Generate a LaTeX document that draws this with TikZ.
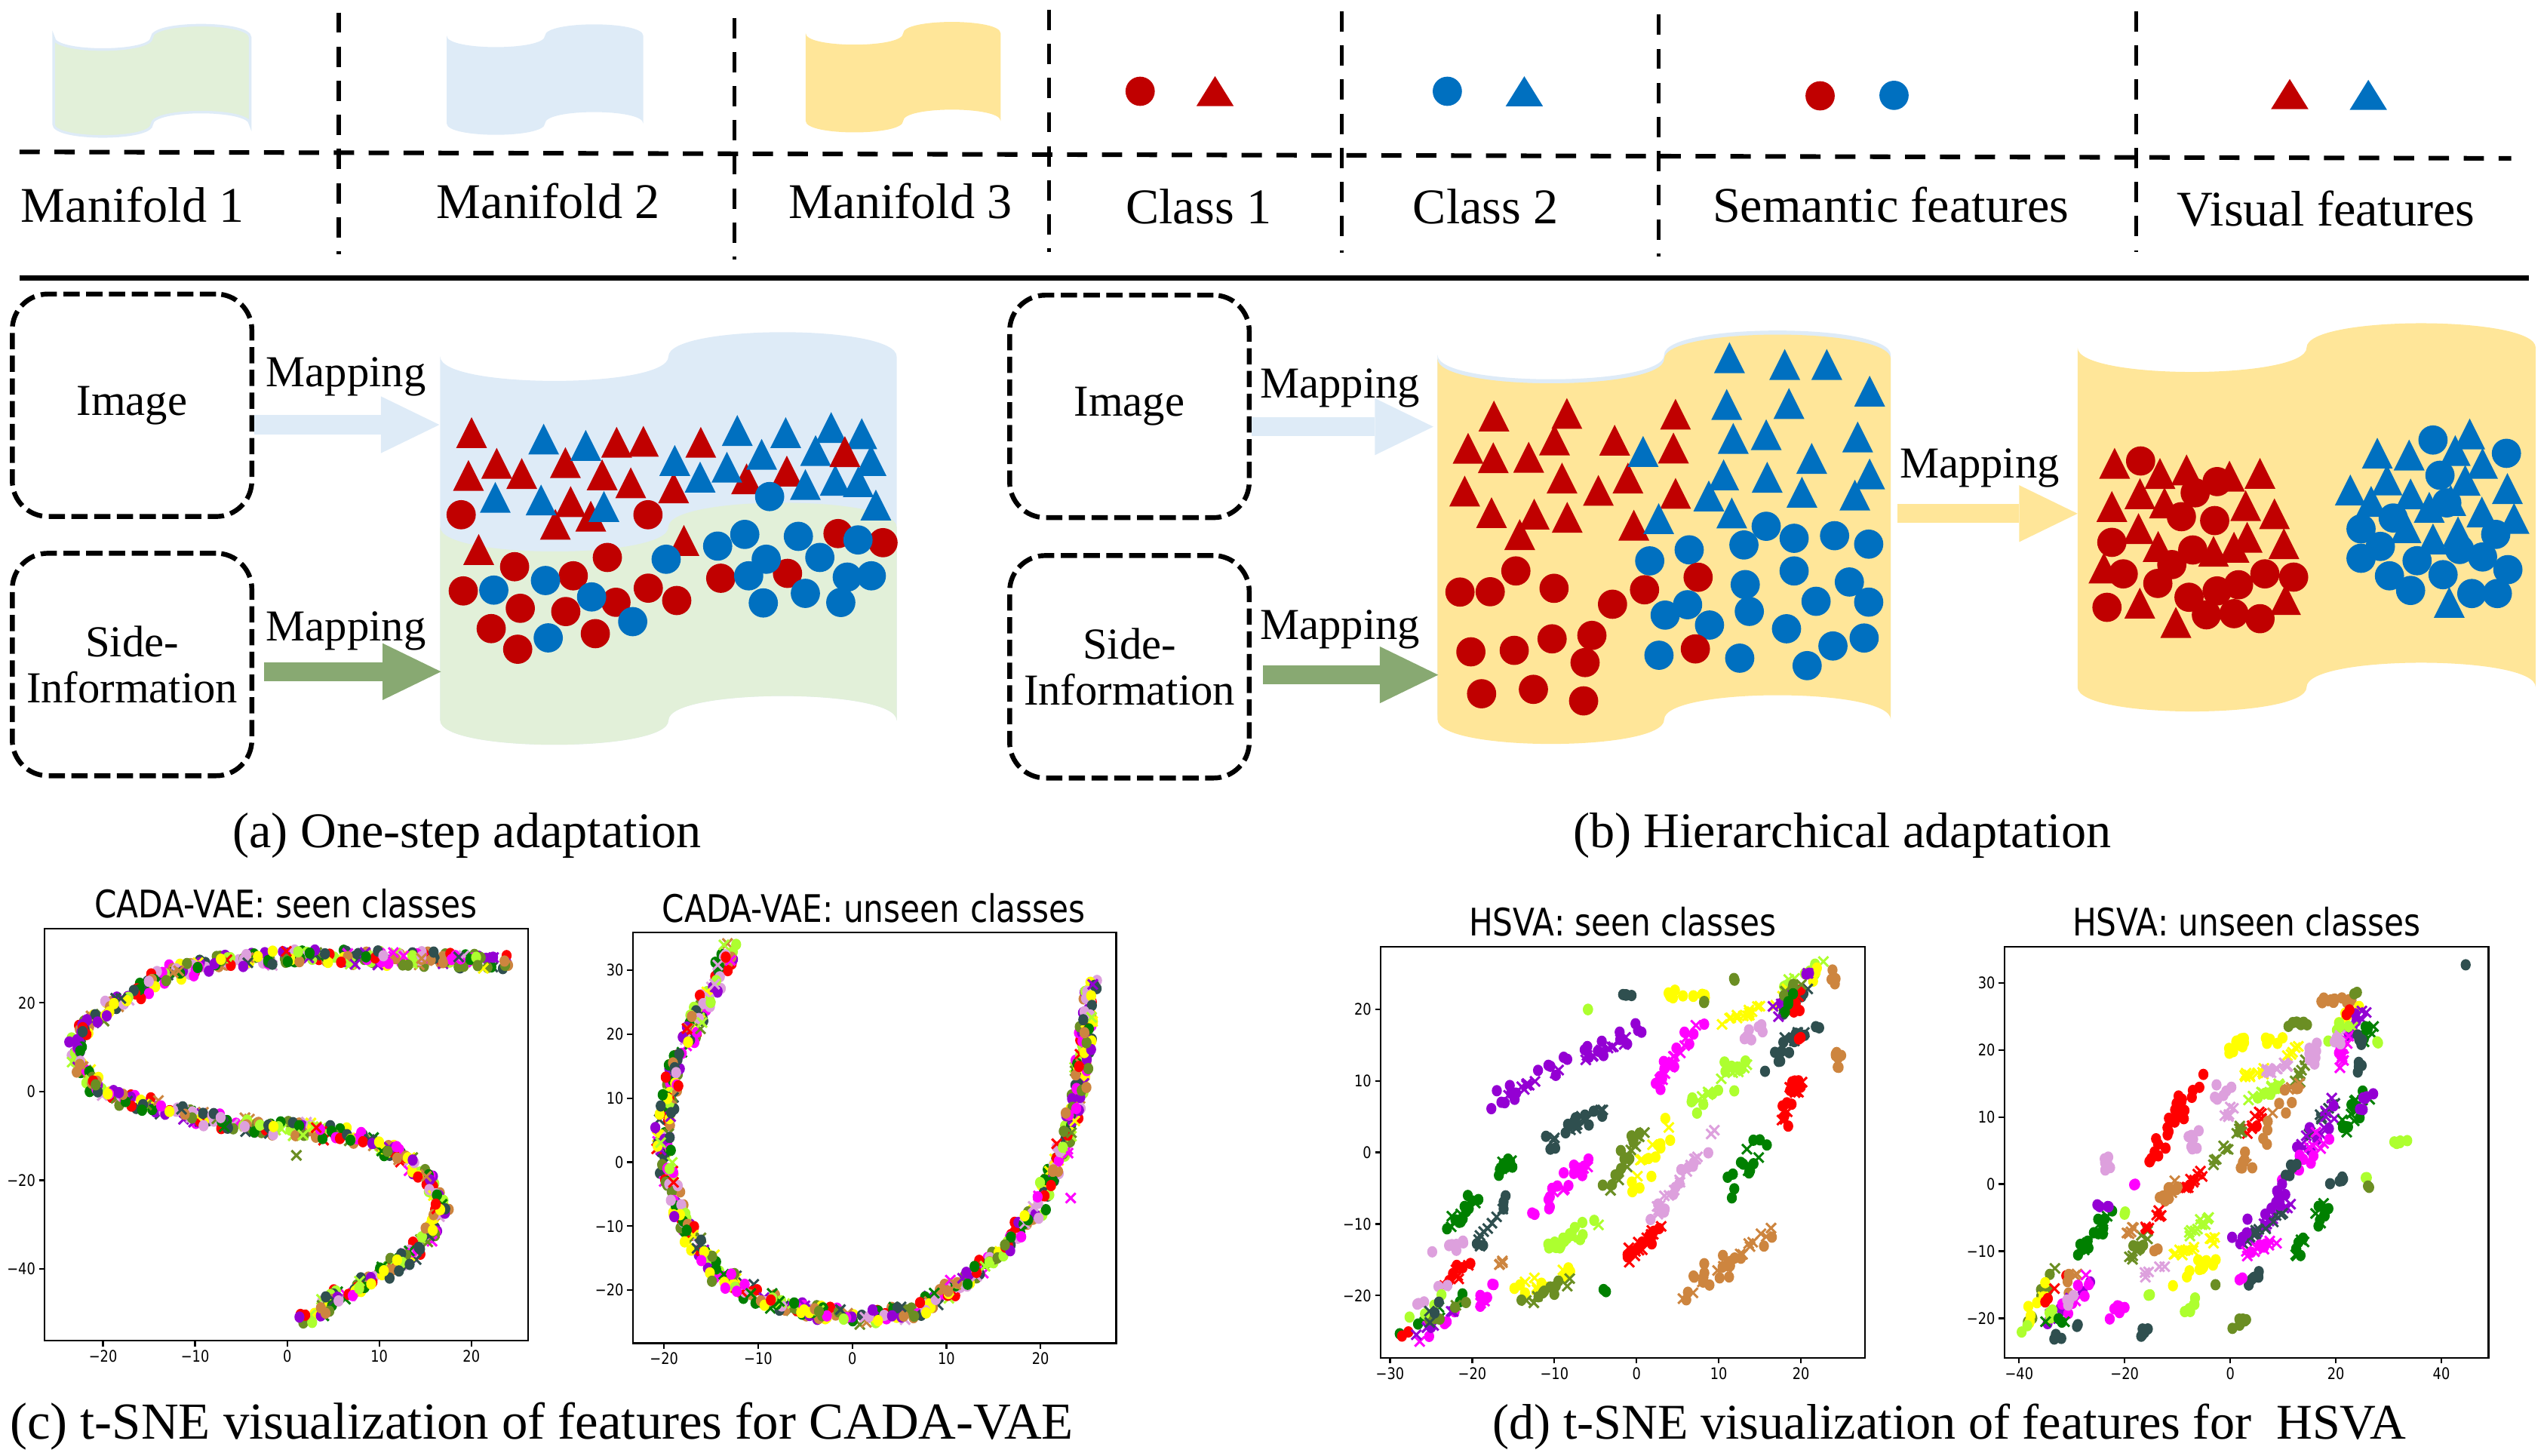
\documentclass[tikz,border=0pt]{standalone}
\usepackage{fontspec}
\setmainfont{Liberation Serif}
\newfontfamily\plotfont[FakeStretch=0.84]{DejaVu Sans}
\usetikzlibrary{arrows.meta}
\definecolor{clsred}{HTML}{C00000}
\definecolor{clsblue}{HTML}{0070C0}
\definecolor{manblue}{HTML}{DEEBF7}
\definecolor{mangreen}{HTML}{E2F0D9}
\definecolor{manyellow}{HTML}{FFE699}
\definecolor{mapgreen}{HTML}{88A972}
\definecolor{tsRed}{HTML}{FF0000}
\definecolor{tsGreen}{HTML}{008000}
\definecolor{tsSlate}{HTML}{2F4F4F}
\definecolor{tsPurple}{HTML}{9400D3}
\definecolor{tsMagenta}{HTML}{FF00FF}
\definecolor{tsYellow}{HTML}{FFFF00}
\definecolor{tsLime}{HTML}{ADFF2F}
\definecolor{tsPeru}{HTML}{CD853F}
\definecolor{tsPlum}{HTML}{DDA0DD}
\definecolor{tsOlive}{HTML}{6B8E23}
\pgfmathdeclarerandomlist{tsnecols}{{tsRed}{tsGreen}{tsSlate}{tsPurple}{tsMagenta}{tsYellow}{tsLime}{tsPeru}{tsPlum}{tsOlive}}

% manifold sheet: style, left, right, top edge, bottom edge, bulge
\newcommand{\manifold}[6]{%
  \pgfmathsetmacro\mfm{(#2+#3)/2}%
  \pgfmathsetmacro\mfd{4/3*#6}%
  \path[#1] (#2,#4) .. controls (#2,#4+\mfd) and (\mfm,#4+\mfd) .. (\mfm,#4)
    .. controls (\mfm,#4-\mfd) and (#3,#4-\mfd) .. (#3,#4)
    -- (#3,#5) .. controls (#3,#5-\mfd) and (\mfm,#5-\mfd) .. (\mfm,#5)
    .. controls (\mfm,#5+\mfd) and (#2,#5+\mfd) .. (#2,#5) -- cycle;}

% one t-SNE marker at (\px,\py)
\newcommand{\tsnemark}[2]{%
  \pgfmathsetmacro\mk{rnd}%
  \ifdim\mk pt<#2pt
    \draw[color=#1, line width=0.8pt] (\px,\py) +(-0.06cm,-0.06cm) -- +(0.06cm,0.06cm)
      +(-0.06cm,0.06cm) -- +(0.06cm,-0.06cm);%
  \else
    \fill[color=#1] (\px,\py) ellipse[x radius=0.062cm, y radius=0.07cm];%
  \fi}

% clusters: x1/y1/x2/y2/colour/count/jitter/cross share
\newcommand{\tsnepoints}[1]{%
  \foreach \ax/\ay/\bx/\by/\cc/\nn/\jj/\xf in {#1}{%
    \pgfmathtruncatemacro\nm{max(1,\nn*1.4)}%
    \foreach \k in {1,...,\nm}{%
      \pgfmathsetmacro\tpos{rnd}%
      \pgfmathsetmacro\px{\ax+((\bx)-(\ax))*\tpos+1.3*\jj/\sxf*rand}%
      \pgfmathsetmacro\py{\ay+((\by)-(\ay))*\tpos+1.3*\jj/\syf*rand}%
      \tsnemark{\cc}{\xf}%
    }%
  }}

% band of mixed classes along a path
\newcommand{\tsnecurve}[3]{%
  \foreach \bx/\by [remember=\bx as \ax (initially #1), remember=\by as \ay (initially #2)] in {#3}{%
    \pgfmathtruncatemacro\nn{max(1,veclen(((\bx)-(\ax))*\sxf,((\by)-(\ay))*\syf)/0.9)}%
    \foreach \k in {1,...,\nn}{%
      \pgfmathrandomitem{\cc}{tsnecols}%
      \pgfmathsetmacro\tpos{rnd}%
      \pgfmathsetmacro\px{\ax+((\bx)-(\ax))*\tpos+4.5/\sxf*rand}%
      \pgfmathsetmacro\py{\ay+((\by)-(\ay))*\tpos+4.5/\syf*rand}%
      \tsnemark{\cc}{0.2}%
    }%
  }}

\begin{document}
\begin{tikzpicture}[x=0.02cm, y=-0.02cm,
    srcbox/.style={draw, line width=1.7pt, dash pattern=on 0.2cm off 0.08cm,
      rounded corners=0.44cm, minimum width=2.95cm, minimum height=2.74cm,
      align=center, font=\fontsize{15.5}{16.3}\selectfont},
    maplabel/.style={inner sep=0pt, font=\fontsize{15.5}{17}\selectfont},
    legtext/.style={anchor=base, inner sep=0pt, font=\fontsize{17.5}{20}\selectfont},
    captext/.style={anchor=base, inner sep=0pt, font=\fontsize{17.5}{20}\selectfont},
    blockarrow/.style={line width=0.235cm,
      -{Triangle[length=0.72cm, width=0.70cm, line width=0pt]}},
    legdash/.style={line width=1.4pt, dash pattern=on 0.25cm off 0.17cm},
    plotframe/.style={line width=0.6pt},
    plottitle/.style={anchor=base, inner sep=0pt, font=\plotfont\fontsize{13.3}{15}\selectfont},
    ticklabel/.style={inner sep=1pt, font=\plotfont\fontsize{5.6}{6.5}\selectfont}]
  \pgfmathsetseed{3}
  \useasboundingbox (0,0) rectangle (1568,896);

  % legend
  \manifold{fill=mangreen, draw=manblue, line width=0.9pt}{33}{154}{23}{76.5}{7.5}
  \manifold{fill=manblue}{275}{396}{22}{76}{7}
  \manifold{fill=manyellow}{496}{616}{20.5}{74.5}{7}
  \foreach \lx/\ly/\lc in {701.9/56.2/clsred, 891/56.2/clsblue, 1120.5/59/clsred, 1166/58.7/clsblue}
    \fill[color=\lc] (\lx,\ly) circle (0.18cm);
  \foreach \lx/\ly/\lc in {748/56.1/clsred, 938.4/56.2/clsblue, 1409.6/57.9/clsred, 1458/58.4/clsblue}
    \fill[color=\lc] (\lx,\ly) ++(-11.5,9.25) -- ++(23,0) -- ++(-11.5,-18.5) -- cycle;

  \draw[legdash, line width=1.6pt, dash pattern=on 0.25cm off 0.18cm] (12,93.5) -- (1546,97.5);
  \foreach \lx/\ya/\yb in {208.6/7.7/156.7, 452/11/160, 645.7/6/155, 826/7/155.6, 1021/9/158, 1315/7/155}
    \draw[legdash] (\lx,\ya) -- (\lx,\yb);
  \draw[line width=1.8pt] (12,171) -- (1557,171);

  \node[legtext] (lgman1) at (81.7,137) {Manifold 1};
  \node[legtext] (lgman2) at (337.6,134.4) {Manifold 2};
  \node[legtext] (lgman3) at (554.5,134.4) {Manifold 3};
  \node[legtext] (lgcls1) at (738,137.8) {Class 1};
  \node[legtext] (lgcls2) at (914.7,137.8) {Class 2};
  \node[legtext] (lgsem) at (1164,137) {Semantic features};
  \node[legtext] (lgvis) at (1432,139.3) {Visual features};

  % (a) one-step adaptation
  \manifold{fill=manblue}{271}{552}{219.5}{443.5}{15}
  \manifold{fill=mangreen}{271}{552}{324.5}{443.5}{15}

  \foreach \p in {(290.3,266.3),(305.8,285.2),(288.4,292.7),(321.2,291.5),(348.1,284.8),
    (379.6,272.3),(396.1,271.7),(370.7,292.3),(388.3,297.2),(351.3,308.8),(341.9,322.8),
    (363.7,317.8),(414.7,300.3),(431.4,272.3),(459.6,294.8),(484.4,290),(294.7,338.3),(421,332.7)}
    \fill[clsred] \p ++(-9.5,9.5) -- ++(19,0) -- ++(-9.5,-19) -- cycle;
  \foreach \p in {(334.7,270.3),(360.6,274.2),(304.9,306.2),(333.1,307.8),(371.8,311.8),
    (415.4,283.5),(431,293.7),(447.5,287.6),(453.9,265),(468.9,279.7),(483.7,266.3),
    (511.7,263.2),(502.1,277.4),(530.5,267),(495.8,298.3),(514.2,295.7),(536.2,283.5),
    (528.4,296.5),(539.2,310.9)}
    \fill[clsblue] \p ++(-9.5,9.5) -- ++(19,0) -- ++(-9.5,-19) -- cycle;
  \fill[clsred] (520.1,278) ++(-9.5,9.5) -- ++(19,0) -- ++(-9.5,-19) -- cycle;
  \foreach \p in {(283.9,316.9),(398.9,316.9),(316.8,348.9),(285.2,363.8),(352.9,354.5),
    (373.9,343.2),(320.3,374.5),(348.3,376.5),(379.2,370.8),(399.1,362.1),(416.6,369.7),
    (302.4,387),(318.7,399.7),(366.5,390.1),(443.7,356),(484.8,353),(515.9,328.5),(543.6,334.1)}
    \fill[clsred] \p circle (0.18cm);
  \foreach \p in {(473.8,305.7),(304,363.3),(335.8,357.4),(364.2,367.5),(389.5,382.7),
    (337.5,392.7),(410.1,344.3),(441.8,336.2),(458.5,329),(471.7,344.3),(460.9,354.5),
    (491.5,330.2),(504.7,343.2),(528.2,332.4),(495.8,365.3),(469.9,371.2),(517.6,370.9),
    (521.6,355.3),(536.4,354.5)}
    \fill[clsblue] \p circle (0.18cm);

  \node[srcbox] (imga) at (81.3,249.5) {Image};
  \node[srcbox] (sida) at (81.3,409.1) {Side-\\Information};
  \coordinate (ina1) at (270.5,261.5);
  \coordinate (ina2) at (271.5,413.5);
  \draw[blockarrow, manblue] (imga.east |- ina1) -- (ina1);
  \draw[blockarrow, mapgreen, shorten <=0.12cm] (sida.east |- ina2) -- (ina2);
  \node[maplabel] (mapa1) at (213,232) {Mapping};
  \node[maplabel] (mapa2) at (213,388.6) {Mapping};
  \node[captext] (capa) at (287.5,522) {(a) One-step adaptation};

  % (b) hierarchical adaptation
  \manifold{fill=manblue}{885}{1164}{218.5}{440}{15}
  \manifold{fill=manyellow}{885}{1164}{221}{443}{15}
  \manifold{fill=manyellow}{1279}{1561}{214}{423}{15}

  \foreach \p in {(919.7,256.1),(964.6,254.5),(903.8,276),(919.3,281.8),(941.1,281.5),
    (957,270.8),(994,271),(1031.5,255),(1030.2,275.8),(901.7,302.3),(961.6,294.3),
    (984,301.9),(1002.2,294.3),(1031.5,303.7),(918.2,315.6),(944.5,316.5),(964.8,318.5),
    (935.6,329.1),(1005.8,323.3)}
    \fill[clsred] \p ++(-9.5,9.5) -- ++(19,0) -- ++(-9.5,-19) -- cycle;
  \foreach \p in {(1064.7,220.2),(1098.7,224.4),(1124.6,224.4),(1151,240.8),(1063,249),
    (1101.3,248.4),(1067,269.9),(1087.3,267.6),(1143.6,269),(1011.5,277.9),(1115.3,282.2),
    (1061.1,292.3),(1087.9,293.8),(1151,291.8),(1052,305.3),(1109.3,303),(1141.9,304.8),
    (1066.1,315.8),(1021.1,319.3)}
    \fill[clsblue] \p ++(-9.5,9.5) -- ++(19,0) -- ++(-9.5,-19) -- cycle;
  \foreach \p in {(1015.6,345.3),(1039.9,338.5),(1087.3,324),(1073.6,335.5),(1104.5,331.4),
    (1129.4,329.8),(1150.4,335),(1104.5,351.5),(1074.4,359.9),(1138.5,358.3),(1118,370.2),
    (1150.4,370.7),(1076.9,376.4),(1025.1,378.7),(1038.9,372.3),(1052.4,384.8),(1099.8,387.1),
    (1128.4,397.7),(1147.6,392.8),(1021.3,403.4),(1071,405.2),(1112.5,409.8)}
    \fill[clsblue] \p circle (0.18cm);
  \foreach \p in {(898.8,364.5),(917.4,364.3),(933.2,351.5),(956.7,362.2),(992.7,372),
    (1012.4,363.1),(1045.4,355.4),(905.5,401.3),(932.2,400.4),(955.5,393.3),(980,391.2),
    (975.8,407.9),(912.1,427.1),(944,424.4),(974.9,431.5),(1043.7,399.5)}
    \fill[clsred] \p circle (0.18cm);

  \foreach \p in {(1301.8,285.2),(1317.4,303.9),(1329.7,291.5),(1346.1,289.3),(1372.5,293.1),
    (1391.3,291.4),(1300.1,311.8),(1332.5,309.6),(1316.5,325.4),(1382.5,311.3),(1400.2,316.3),
    (1328.6,336.4),(1362.7,339.4),(1375.3,336.9),(1383.4,330.8),(1406,334.7),(1295.2,349.7),
    (1317.3,371.3),(1339.5,383.2),(1407,369.1)}
    \fill[clsred] \p ++(-9.5,9.5) -- ++(19,0) -- ++(-9.5,-19) -- cycle;
  \foreach \p in {(1317.8,283.8),(1351.4,303.4),(1364.9,296.5),(1342.9,318.1),(1363.4,320.5),
    (1300.1,333.9),(1349.9,338.6),(1337,347.6),(1307.1,353.3),(1328.4,359.2),(1347.6,367.7),
    (1364.9,363.8),(1378.1,360),(1394.3,353.3),(1412,355.3),(1297.1,373.9),(1358.3,378.5),
    (1375.3,377.8),(1391.3,380.9)}
    \fill[clsred] \p circle (0.18cm);
  \foreach \p in {(1497.8,270.9),(1543,279.1),(1502.1,292.6),(1453.5,325.6),(1473.3,318.9),
    (1465.4,336.4),(1453.5,343.7),(1488,345.2),(1536.4,329),(1514.2,338.3),(1528.3,342.9),
    (1543.9,350.7),(1471,354.5),(1504,353.8),(1484,363.5),(1521.7,365.4),(1537.4,365.4),
    (1506.3,309.6)}
    \fill[clsblue] \p circle (0.18cm);
  \foreach \p in {(1463.5,279),(1483.1,280.1),(1520.4,267.1),(1511.5,277.4),(1528.3,285.3),
    (1446.9,301.6),(1469.5,295.5),(1517.6,295.7),(1543.6,300.8),(1459.7,308.7),(1484,304.1),
    (1495.5,312.3),(1508.7,308.1),(1527.9,315.2),(1547.7,319.2),(1481.2,324.8),(1513.2,327.4),
    (1497.8,331.8),(1507.8,370.8)}
    \fill[clsblue] \p ++(-9.5,9.5) -- ++(19,0) -- ++(-9.5,-19) -- cycle;

  \node[srcbox] (imgb) at (695.3,250.2) {Image};
  \node[srcbox] (sidb) at (695.3,410.5) {Side-\\Information};
  \coordinate (inb1) at (882.4,262.7);
  \coordinate (inb2) at (885.4,415.5);
  \coordinate (outb) at (1168,316.2);
  \coordinate (inb3) at (1279,316.2);
  \draw[blockarrow, manblue] (imgb.east |- inb1) -- (inb1);
  \draw[blockarrow, mapgreen, shorten <=0.14cm] (sidb.east |- inb2) -- (inb2);
  \draw[blockarrow, manyellow] (outb) -- (inb3);
  \node[maplabel] (mapb1) at (825,239) {Mapping};
  \node[maplabel] (mapb2) at (825,387.5) {Mapping};
  \node[maplabel] (mapb3) at (1218.7,288) {Mapping};
  \node[captext] (capb) at (1134,522) {(b) Hierarchical adaptation};

  % (c) CADA-VAE, seen classes
  \begin{scope}[shift={(176.8,672)}, x=0.1134cm, y=0.0546cm]
    \def\sxf{5.67}\def\syf{2.73}
    \tsnecurve{23.7}{29.2}{14.7/29.9, 4.0/30.5, -3/30.0, -7/29.6, -10.2/27.8, -13.0/26.6,
      -16.2/23, -19.1/18.7, -21.6/15.1, -23.0/11, -22.8/6.5, -21.2/2.3, -18.4/-1.3,
      -13.7/-3.8, -8.4/-6.2, -3.1/-8.0, 2.2/-8.6, 5.8/-9.8, 9.3/-11.7, 12.9/-14.7,
      15.4/-19.6, 16.8/-25.6, 15.7/-31.7, 12.9/-37.8, 9.3/-42.6, 5.8/-46.3, 1.9/-51.2}
    \tsnepoints{1.0/-14.4/1.0/-14.4/tsOlive/1/0/1}
    \draw[plotframe] (-26.33,-56.19) rectangle (26.14,36.70);
    \foreach \v/\t [count=\i] in {-20/−20, -10/−10, 0/0, 10/10, 20/20}
      \draw[plotframe] (\v,-56.19) -- ++(0,-0.07cm) node[ticklabel, anchor=north] (c1x\i) {\t};
    \foreach \v/\t [count=\i] in {20/20, 0/0, -20/−20, -40/−40}
      \draw[plotframe] (-26.33,\v) -- ++(-0.07cm,0) node[ticklabel, anchor=east] (c1y\i) {\t};
  \end{scope}
  \node[plottitle] (titc1) at (176,565) {CADA-VAE: seen classes};

  % (c) CADA-VAE, unseen classes
  \begin{scope}[shift={(524.7,715.5)}, x=0.1159cm, y=0.0788cm]
    \def\sxf{5.795}\def\syf{3.94}
    \tsnecurve{-12.8}{33.4}{-14.5/28.4, -16.5/22.6, -18.6/16.7, -19.4/10.8, -20.2/5.0,
      -19.8/-0.9, -18.6/-6.7, -16.9/-12.6, -14.5/-17.3, -10.4/-20.8, -4.7/-23.2, 1.1/-24.3,
      6.8/-23.4, 10.9/-19.6, 15.8/-13.8, 19.9/-6.7, 22.3/2.1, 24.0/10.8, 24.8/19.6, 25.4/29.0}
    \tsnepoints{23.2/-5.6/23.2/-5.6/tsMagenta/1/0/1}
    \draw[plotframe] (-23.31,-28.30) rectangle (28.04,35.91);
    \foreach \v/\t [count=\i] in {-20/−20, -10/−10, 0/0, 10/10, 20/20}
      \draw[plotframe] (\v,-28.30) -- ++(0,-0.07cm) node[ticklabel, anchor=north] (c2x\i) {\t};
    \foreach \v/\t [count=\i] in {30/30, 20/20, 10/10, 0/0, -10/−10, -20/−20}
      \draw[plotframe] (-23.31,\v) -- ++(-0.07cm,0) node[ticklabel, anchor=east] (c2y\i) {\t};
  \end{scope}
  \node[plottitle] (titc2) at (538,567.6) {CADA-VAE: unseen classes};
  \node[captext, font=\fontsize{18.2}{20}\selectfont] (capc) at (333.5,886)
    {(c) t-SNE visualization of features for CADA-VAE};

  % (d) HSVA, seen classes
  \begin{scope}[shift={(1007.5,709.5)}, x=0.1012cm, y=0.08814cm]
    \def\sxf{5.06}\def\syf{4.407}
    \tsnepoints{-16/8/-0.5/16/tsPurple/16/1.5/1, -17/7.5/0.5/17/tsPurple/20/6/0,
      2.5/10/7.5/17.5/tsMagenta/10/1.5/1, 2.5/9.5/7.5/18/tsMagenta/10/4/0,
      4/22.2/8.5/22.2/tsYellow/10/2/0, 10/18/15.5/20.5/tsYellow/10/1.5/1,
      13/15.5/15.5/17.5/tsPlum/6/3/0, -1.8/22/-0.8/22/tsSlate/4/1/0,
      -5.8/19.9/-5.8/19.9/tsLime/2/0.5/0, 11.9/24.2/11.9/24.2/tsOlive/2/0.5/0,
      8.3/21/8.3/21/tsOlive/2/0.5/0, 16/22/23/26.5/tsLime/8/3/0.3,
      17/21/22/25/tsYellow/5/3/0.3, 17/18.5/23/25.5/tsSlate/6/3/0.2,
      16.5/19.5/22/26.5/tsPurple/6/3/0.3, 19/20/21/24/tsRed/5/2.5/0.5,
      18/21/21/25/tsOlive/4/3/0.5, 17/19/20/23/tsGreen/3/2/0,
      24/23/24/26/tsPeru/3/1.5/0, 22/17/22/19/tsSlate/2/1/0,
      16/12/20/16.5/tsSlate/12/4/0.3, 20/16/20/16/tsRed/2/1/0,
      17.5/2.5/19.5/10/tsRed/16/3/0.4, 24.5/12/24.7/14.5/tsPeru/6/1.5/0,
      6/6/13.5/12.5/tsLime/10/1.5/1, 6/5/13.5/13/tsLime/10/5/0,
      -10/2/-4/6.5/tsSlate/10/1.5/1, -10.5/1/-3.5/7/tsSlate/8/4/0,
      -3.5/-5.5/1/3/tsOlive/8/1.5/1, -3.8/-6.3/1/3.6/tsOlive/8/4/0,
      -0.5/-5/4/4/tsYellow/12/4/0.3, 2/-9/9.5/3/tsPlum/12/1.5/1,
      2/-9/9.5/3/tsPlum/10/5/0, 11/-6/15.5/2/tsGreen/12/4/0.3,
      -17.5/-4/-14/0/tsGreen/10/3/0.3, -11.5/-7.5/-6/-1/tsMagenta/14/3/0.3,
      -12.6/-8.4/-12.6/-8.4/tsMagenta/2/1/0, -23/-11/-19.5/-6/tsGreen/12/3/0.3,
      -19.5/-13.5/-16/-6.5/tsSlate/10/2.5/0.5, -10.5/-13.5/-4/-9/tsLime/14/3/0.3,
      -2/-15.5/3/-10.5/tsRed/18/3/0.3, 5/-21/16.5/-10.5/tsPeru/14/1.5/1,
      5/-21/16.8/-10.5/tsPeru/14/5/0, -25/-14/-20.5/-12.7/tsPlum/6/2/0,
      -23.2/-18.4/-20.7/-15.3/tsRed/8/2/0.5, -17/-15.3/-16/-15.3/tsPeru/3/1.5/1,
      -15.5/-20/-7.7/-16/tsYellow/10/3/0.3, -13.5/-21.5/-8/-17/tsOlive/10/3/0.4,
      -19.5/-22/-17.5/-18/tsMagenta/6/2/0.3, -3.8/-19.2/-3.8/-19.2/tsGreen/2/1/0,
      -29/-26/-21/-20/tsGreen/6/3/0.3, -28.5/-26/-22/-21/tsRed/2/2/0,
      -27/-26/-21/-21/tsMagenta/5/3/0.3, -27/-26.5/-22/-22/tsPurple/5/3/0.3,
      -27/-22/-23/-19/tsPlum/4/3/0, -26/-24/-21/-20/tsOlive/5/3/0.3,
      -28/-25/-24/-20/tsLime/3/3/0, -27/-24/-23/-21/tsSlate/3/3/0.5}
    \draw[plotframe] (-31.13,-28.70) rectangle (27.77,28.77);
    \foreach \v/\t [count=\i] in {-30/−30, -20/−20, -10/−10, 0/0, 10/10, 20/20}
      \draw[plotframe] (\v,-28.70) -- ++(0,-0.07cm) node[ticklabel, anchor=north] (d1x\i) {\t};
    \foreach \v/\t [count=\i] in {20/20, 10/10, 0/0, -10/−10, -20/−20}
      \draw[plotframe] (-31.13,\v) -- ++(-0.07cm,0) node[ticklabel, anchor=east] (d1y\i) {\t};
  \end{scope}
  \node[plottitle] (titd1) at (999,576.2) {HSVA: seen classes};

  % (d) HSVA, unseen classes
  \begin{scope}[shift={(1373,729)}, x=0.065cm, y=0.0826cm]
    \def\sxf{3.25}\def\syf{4.13}
    \tsnepoints{44.6/32.7/44.6/32.7/tsSlate/1/0/0, 17/27.3/22.6/27.3/tsPeru/10/1.5/0,
      23.8/28.5/23.8/28.5/tsOlive/2/1/0, 20/24/24/26/tsYellow/4/2/0,
      22/22/26.5/27/tsPurple/6/3/0.3, 24/20.5/27/24/tsGreen/6/2.5/0.3,
      20/17/22.5/22/tsMagenta/8/2/0.6, 19/22/23/24/tsLime/5/3/0.2,
      23/20/25/22/tsSlate/3/2/0, 22/25/23/26/tsRed/2/1/0.5,
      19/20/21/22/tsPlum/4/2/0.5, 28/21.2/28/21.2/tsLime/2/0.5/0,
      10.8/23.8/14.5/24.3/tsOlive/6/1.5/0, -0.4/19.5/3.3/21.9/tsYellow/9/2/0,
      7/21.3/10.2/21.5/tsYellow/5/1.5/0, 2.1/15.8/6.4/17/tsYellow/8/1.5/1,
      11/19.5/13/20.5/tsYellow/4/1.5/1, 7/16.6/12/18.3/tsPlum/10/1.5/1,
      4/13/10.2/15/tsLime/10/1.5/1, 4/13/10/14.5/tsLime/4/2/0,
      12.6/15/14.5/19.9/tsOlive/6/1.5/1, 15/18/16.5/21.5/tsPlum/6/2/0,
      24.4/16.5/24.6/18/tsSlate/3/1/0, -15.2/3.4/-6/15.8/tsRed/22/3/0,
      -7.8/4.2/-1/15/tsPlum/10/4/0, -1/10/1.5/12/tsPlum/4/1.5/1,
      -24/4.5/-23/2/tsPlum/5/2/0, 2.1/7.8/7/11/tsRed/8/2/0.7,
      2.7/2.6/12.6/15/tsPeru/16/3/0.2, -4.1/2.6/2.1/8.6/tsOlive/8/1.5/1,
      -9/-1/-4/2.6/tsRed/8/1.5/0.8, -13.4/-2.6/-9/1.4/tsPeru/10/3/0.2,
      -18/-0.2/-18/-0.2/tsMagenta/2/1/0, 14.5/7/20/12.6/tsSlate/8/1.5/1,
      13/4/21/13/tsPurple/12/4/0.3, 20.7/7/25.6/13.8/tsGreen/14/3/0.3,
      24.4/11.4/26.9/13.4/tsPurple/5/2/0, 30.6/6.2/33.7/6.2/tsLime/4/1.5/0,
      10.8/1/18.2/7.8/tsMagenta/10/4/0.3, 10.2/1.4/12.6/3/tsSlate/4/1.5/0,
      18.2/-1.4/21.3/0.6/tsSlate/4/2/0, 25.6/1.2/25.6/1.2/tsLime/2/1/0,
      26.3/-0.6/26.3/-0.6/tsOlive/2/1/0, 0.9/-9.5/12/-2.6/tsPurple/12/1.5/1,
      2/-9/11/-3.5/tsSlate/10/1.5/1, 0.9/-9/10/-2/tsPurple/8/4/0,
      2.1/-10.7/9.5/-8.3/tsMagenta/10/2/0.7, 12/-10.3/18.2/-3.4/tsGreen/14/3/0.3,
      8.3/-2.6/9.5/-0.2/tsPurple/3/1.5/0, -10.9/-10.7/-2.8/-8.3/tsYellow/10/1.5/1,
      -10.3/-15.5/-2.8/-10.7/tsYellow/10/3/0, -7.8/-7.4/-2.8/-4.2/tsLime/8/1.5/1,
      -8.4/-19.5/-6/-16.3/tsLime/5/1.5/0, 0.9/-21.1/3.3/-19.5/tsOlive/5/1.5/0,
      -17.1/-22.3/-14.6/-21.1/tsSlate/4/1.5/0, 4/-14.7/7.7/-12.3/tsSlate/4/2/0,
      2.1/-14.3/2.1/-14.3/tsMagenta/2/1/0, -2.8/-15/-2.8/-15/tsOlive/1/0/0,
      -16.5/-13.5/-12.8/-12.3/tsPlum/4/1.5/1, -15.2/-16.3/-15.2/-16.3/tsLime/2/1/0,
      -20.2/-12.3/-15.9/-7.4/tsOlive/8/2/0.6, -14/-9.8/-14/-9.8/tsPeru/2/1/0,
      -16.5/-7/-12.8/-4.2/tsRed/6/1.5/1, -19.6/-7.4/-16.5/-5.8/tsPeru/4/1.5/1,
      -28.3/-10.3/-22.7/-4.2/tsGreen/14/3/0.2, -25.2/-3/-22/-3/tsPurple/3/1.5/0,
      -20.2/-4.2/-20.2/-4.2/tsLime/2/1/0, -39/-21/-33/-12/tsOlive/6/3/0.2,
      -38/-20/-33/-14/tsYellow/6/3/0.2, -35/-18/-31/-13/tsRed/3/2/0.5,
      -34/-18/-30/-14/tsPeru/4/3/0.5, -37/-22/-27/-15/tsPurple/6/3/0.4,
      -31/-19/-26/-14/tsMagenta/6/3/0.5, -39/-22/-33/-18/tsLime/4/3/0,
      -35/-23/-28/-21/tsSlate/4/3/0, -35/-21/-30/-20/tsGreen/3/2/0.3,
      -31/-18/-30/-16/tsPlum/3/2/0, -22.7/-20.3/-20.2/-17.9/tsMagenta/5/2/0}
    \draw[plotframe] (-42.77,-25.91) rectangle (48.92,35.42);
    \foreach \v/\t [count=\i] in {-40/−40, -20/−20, 0/0, 20/20, 40/40}
      \draw[plotframe] (\v,-25.91) -- ++(0,-0.07cm) node[ticklabel, anchor=north] (d2x\i) {\t};
    \foreach \v/\t [count=\i] in {30/30, 20/20, 10/10, 0/0, -10/−10, -20/−20}
      \draw[plotframe] (-42.77,\v) -- ++(-0.07cm,0) node[ticklabel, anchor=east] (d2y\i) {\t};
  \end{scope}
  \node[plottitle] (titd2) at (1383,576.2) {HSVA: unseen classes};
  \node[captext] (capd) at (1200,886) {(d) t-SNE visualization of features for\ \ HSVA};
\end{tikzpicture}
\end{document}
